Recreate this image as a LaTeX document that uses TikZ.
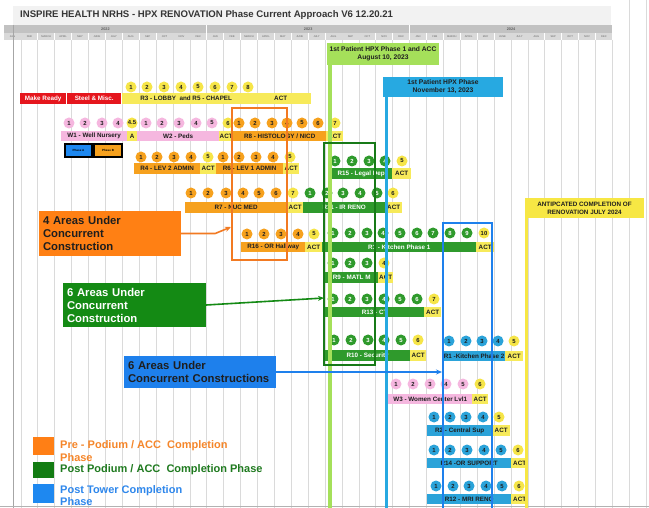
\documentclass[tikz,border=0pt]{standalone}
\usepackage{fontspec}
\setmainfont{Liberation Sans}
\usetikzlibrary{arrows.meta}
\definecolor{dk}{HTML}{1E1E1E}
\definecolor{cY}{HTML}{F6E548}
\definecolor{bY}{HTML}{F7EA5A}
\definecolor{cP}{HTML}{F5B7DF}
\definecolor{cO}{HTML}{F6A11E}
\definecolor{cG}{HTML}{2F9A2C}
\definecolor{cB}{HTML}{2BA3D9}
\definecolor{bR}{HTML}{E5161D}
\definecolor{cdgrn}{HTML}{187A18}
\definecolor{cbrt}{HTML}{1E80EC}
\definecolor{clgrn}{HTML}{A5E05A}
\definecolor{coutl}{HTML}{F27A22}
\definecolor{ccall}{HTML}{FF8014}
\definecolor{cgridc}{HTML}{DADADA}
\definecolor{chead}{HTML}{F2F2F2}
\definecolor{cyear}{HTML}{C2C2C2}
\definecolor{cmon}{HTML}{D9D9D9}
\definecolor{mblue}{HTML}{27A9E1}
\definecolor{myel}{HTML}{F7E744}
\definecolor{lgO}{HTML}{FF7F15}
\definecolor{lgG}{HTML}{137C13}
\definecolor{lgB}{HTML}{1E88F0}
\definecolor{ltO}{HTML}{F5862A}
\definecolor{ltG}{HTML}{1F7A1F}
\definecolor{ltB}{HTML}{2E87EC}
\definecolor{cgbox}{HTML}{148A14}
\newcommand\circrow[3]{\foreach \xx/\ll/\cf/\ct [count=\ii] in {#3}{\node[circ,fill=\cf,text=\ct] (#1-\ii) at (\xx,#2) {\ll};}}
\begin{document}
\begin{tikzpicture}[x=1pt,y=-1pt,
  circ/.style={circle,inner sep=0,minimum size=11pt,font=\bfseries\fontsize{5.9}{6}\selectfont},
  bar/.style={rectangle,inner sep=0,minimum height=10.5pt,anchor=west,font=\bfseries\fontsize{6.3}{7}\selectfont,text=dk},
  monlbl/.style={inner sep=0,font=\fontsize{2.6}{3}\selectfont,text=dk!70},
  yearlbl/.style={inner sep=0,font=\bfseries\fontsize{3.8}{4}\selectfont,text=dk!70},
  ms/.style={rectangle,inner sep=0,align=center,font=\bfseries\fontsize{6.7}{8}\selectfont,text=dk},
  callout/.style={rectangle,inner ysep=0,inner xsep=4pt,align=left,font=\bfseries\fontsize{11.3}{13}\selectfont},
  arr/.style={line width=1.6pt,-{Stealth[length=6pt,width=5pt]}},
  legtxt/.style={inner sep=0,anchor=west,align=left,font=\bfseries\fontsize{11}{13}\selectfont},
  phasebox/.style={draw=black,line width=1.3pt,minimum height=13pt,inner sep=0,font=\bfseries\fontsize{3}{3.5}\selectfont}]
\useasboundingbox (0,0) rectangle (649,508);
\fill[white] (0,0) rectangle (649,508);
% header
\fill[chead] (13,6) rectangle (611,25);
\node[inner sep=0,anchor=west,font=\bfseries\fontsize{9.6}{11}\selectfont,text=dk!90] (title) at (20,15) {INSPIRE HEALTH NRHS - HPX RENOVATION Phase Current Approach V6 12.20.21};
\foreach \yr [count=\yi from 0] in {2022,2023,2024} {
  \fill[cyear] ({4+\yi*202.8+0.4},25.5) rectangle ({4+(\yi+1)*202.8-0.4},32.8);
  \node[yearlbl] (yr-\yr) at ({4+\yi*202.8+101.4},29.2) {\yr};
  \foreach \mn [count=\mi from 0] in {JAN,FEB,MARCH,APRIL,MAY,JUNE,JULY,AUG,SEP,OCT,NOV,DEC} {
    \fill[cmon] ({4+(\yi*12+\mi)*16.9+0.4},33.5) rectangle ({4+(\yi*12+\mi+1)*16.9-0.4},40);
    \node[monlbl] (m-\yr-\mi) at ({4+(\yi*12+\mi+0.5)*16.9},36.8) {\mn};
  }
}
% grid
\foreach \k in {1,...,36} \draw[cgridc,line width=0.7pt] ({4+\k*16.9},40) -- ({4+\k*16.9},508);
\foreach \k in {37,38} \draw[cgridc,line width=0.7pt] ({4+\k*16.9},0) -- ({4+\k*16.9},508);
\draw[gray!70,line width=0.7pt] (13,25) -- (13,508);
\draw[gray!60,line width=0.7pt] (0,506.5) -- (649,506.5);
% bars
\node[bar,fill=bR,text=white,minimum width=46pt] (mr) at (20,98.5) {Make Ready};
\node[bar,fill=bR,text=white,minimum width=54pt] (sm) at (67,98.5) {Steel \& Misc.};
\node[bar,fill=bY,minimum width=128pt] (r3) at (122,98.5) {R3 - LOBBY\ \ and R5 - CHAPEL};
\node[bar,fill=bY,minimum width=61pt] (r3a) at (250,98.5) {ACT};
\node[bar,fill=cP,minimum width=66pt] (w1) at (61,136) {W1 - Well Nursery};
\node[bar,fill=bY,minimum width=10pt] (w1a) at (127,136) {A};
\node[bar,fill=cP,minimum width=82pt] (w2) at (137,136) {W2 - Peds};
\node[bar,fill=bY,minimum width=14pt] (w2a) at (219,136) {ACT};
\node[bar,fill=cO,minimum width=93pt] (r8) at (233,136) {R8 - HISTOLOGY / NICD};
\node[bar,fill=bY,minimum width=17pt] (r8a) at (326,136) {ACT};
\node[bar,fill=cO,minimum width=66pt] (r4) at (134,168.5) {R4 - LEV 2 ADMIN};
\node[bar,fill=bY,minimum width=16pt] (r4a) at (200,168.5) {ACT};
\node[bar,fill=cO,minimum width=67pt] (r6) at (216,168.5) {R6 - LEV 1 ADMIN};
\node[bar,fill=bY,minimum width=16pt] (r6a) at (283,168.5) {ACT};
\node[bar,fill=cG,text=white,minimum width=62pt] (r15) at (330,173.5) {R15 - Legal Dep};
\node[bar,fill=bY,minimum width=19pt] (r15a) at (392,173.5) {ACT};
\node[bar,fill=cO,minimum width=102pt] (r7) at (185,207.5) {R7 - NUC MED};
\node[bar,fill=bY,minimum width=16pt] (r7a) at (287,207.5) {ACT};
\node[bar,fill=cG,text=white,minimum width=82pt] (r11) at (303,207.5) {R11 - IR RENO};
\node[bar,fill=bY,minimum width=17pt] (r11a) at (385,207.5) {ACT};
\node[bar,fill=cO,minimum width=64pt] (r16) at (241,247) {R16 - OR Hallway};
\node[bar,fill=bY,minimum width=17pt] (r16a) at (305,247) {ACT};
\node[bar,fill=cG,text=white,minimum width=154pt] (r1) at (322,247) {R1 - Kitchen Phase 1};
\node[bar,fill=bY,minimum width=18pt] (r1a) at (476,247) {ACT};
\node[bar,fill=cG,text=white,minimum width=53pt] (r9) at (325,277.5) {R9 - MATL M};
\node[bar,fill=bY,minimum width=15pt] (r9a) at (378,277.5) {ACT};
\node[bar,fill=cG,text=white,minimum width=99pt] (r13) at (325,312) {R13 - CT};
\node[bar,fill=bY,minimum width=17pt] (r13a) at (424,312) {ACT};
\node[bar,fill=cG,text=white,minimum width=85pt] (r10) at (325,355.5) {R10 - Security};
\node[bar,fill=bY,minimum width=16pt] (r10a) at (410,355.5) {ACT};
\node[bar,fill=cB,minimum width=62pt] (rk2) at (443,356) {R1 -Kitchen Phase 2};
\node[bar,fill=bY,minimum width=18pt] (rk2a) at (505,356) {ACT};
\node[bar,fill=cP,minimum width=84pt] (w3) at (388,399) {W3 - Women Center Lvl1};
\node[bar,fill=bY,minimum width=16pt] (w3a) at (472,399) {ACT};
\node[bar,fill=cB,minimum width=65pt] (r2) at (427,430.5) {R2 - Central Sup};
\node[bar,fill=bY,minimum width=18pt] (r2a) at (492,430.5) {ACT};
\node[bar,fill=cB,minimum width=84pt] (r14) at (427,463) {R14 -OR SUPPORT};
\node[bar,fill=bY,minimum width=17pt] (r14a) at (511,463) {ACT};
\node[bar,fill=cB,minimum width=84pt] (r12) at (427,499) {R12 - MRI RENO};
\node[bar,fill=bY,minimum width=17pt] (r12a) at (511,499) {ACT};
% circles
\circrow{c3}{87}{131/1/cY/dk,147/2/cY/dk,164/3/cY/dk,181/4/cY/dk,198/5/cY/dk,215/6/cY/dk,232/7/cY/dk,248/8/cY/dk}
\circrow{cw}{123}{69/1/cP/dk,85/2/cP/dk,102/3/cP/dk,118/4/cP/dk,132/4.5/cY/dk,146/1/cP/dk,162/2/cP/dk,179/3/cP/dk,196/4/cP/dk,212/5/cP/dk,228/6/cY/dk,239/1/cO/dk,255/2/cO/dk,272/3/cO/dk,287/4/cO/dk,302/5/cO/dk,318/6/cO/dk,335/7/cY/dk}
\circrow{c46}{157}{141/1/cO/dk,157/2/cO/dk,174/3/cO/dk,191/4/cO/dk,208/5/cY/dk,223/1/cO/dk,239/2/cO/dk,256/3/cO/dk,273/4/cO/dk,290/5/cY/dk}
\circrow{c15}{161}{335/1/cG/white,352/2/cG/white,369/3/cG/white,385/4/cG/white,402/5/cY/dk}
\circrow{c7}{193}{191/1/cO/dk,208/2/cO/dk,226/3/cO/dk,243/4/cO/dk,259/5/cO/dk,276/6/cO/dk,293/7/cY/dk,310/1/cG/white,327/2/cG/white,343/3/cG/white,360/4/cG/white,377/5/cG/white,393/6/cY/dk}
\circrow{c16}{234}{247/1/cO/dk,264/2/cO/dk,281/3/cO/dk,298/4/cO/dk,314/5/cY/dk}
\circrow{c1}{233}{333/1/cG/white,350/2/cG/white,367/3/cG/white,383/4/cG/white,400/5/cG/white,417/6/cG/white,433/7/cG/white,450/8/cG/white,467/9/cG/white,484/10/cY/dk}
\circrow{c9}{263}{333/1/cG/white,350/2/cG/white,367/3/cG/white,384/4/cY/dk}
\circrow{c13}{299}{333/1/cG/white,350/2/cG/white,367/3/cG/white,384/4/cG/white,400/5/cG/white,417/6/cG/white,434/7/cY/dk}
\circrow{c10}{340}{334/1/cG/white,351/2/cG/white,368/3/cG/white,384/4/cG/white,401/5/cG/white,418/6/cY/dk}
\circrow{ck2}{341}{449/1/cB/dk,466/2/cB/dk,482/3/cB/dk,498/4/cB/dk,514/5/cY/dk}
\circrow{cw3}{384}{396/1/cP/dk,413/2/cP/dk,430/3/cP/dk,446/4/cP/dk,463/5/cP/dk,480/6/cY/dk}
\circrow{c2}{417}{434/1/cB/dk,450/2/cB/dk,466/3/cB/dk,483/4/cB/dk,499/5/cY/dk}
\circrow{c14}{450}{434/1/cB/dk,450/2/cB/dk,467/3/cB/dk,484/4/cB/dk,501/5/cB/dk,518/6/cY/dk}
\circrow{c12}{486}{436/1/cB/dk,453/2/cB/dk,469/3/cB/dk,486/4/cB/dk,502/5/cB/dk,519/6/cY/dk}
% phase boxes
\node[phasebox,fill=lgB,minimum width=27pt] (pa) at (78.5,150.5) {Phase A};
\node[phasebox,fill=cO,minimum width=28pt] (pb) at (108,150.5) {Phase B};
% milestones
\fill[clgrn] (328,65) rectangle (332,508);
\node[ms,fill=clgrn,minimum width=112pt,minimum height=22pt] (m1) at (383,54) {1st Patient HPX Phase 1 and ACC\\August 10, 2023};
\fill[mblue] (384.5,97) rectangle (387.5,508);
\node[ms,fill=mblue,minimum width=120pt,minimum height=20pt] (m2) at (443,87) {1st Patient HPX Phase\\November 13, 2023};
\fill[myel] (525,218) rectangle (528,508);
\node[ms,fill=myel,minimum width=119pt,minimum height=20pt,font=\bfseries\fontsize{6.3}{8}\selectfont] (m3) at (584.5,208) {ANTIPCATED COMPLETION OF\\RENOVATION JULY 2024};
% concurrent outlines
\draw[coutl,line width=2.2pt] (232,108) rectangle (287,260);
\draw[cdgrn,line width=2.5pt] (324,143) rectangle (375,365);
\draw[cbrt,line width=2.5pt] (443,223) rectangle (492,512);
% callouts
\node[callout,fill=ccall,text=dk,text width=134pt,minimum height=45pt] (c4) at (110,233.5) {4 Areas Under\\Concurrent\\Construction};
\coordinate (a4) at (231,227);
\draw[arr,coutl] (c4.east) -- ++(34,0) -- (a4);
\node[callout,fill=cgbox,text=white,text width=135pt,minimum height=44pt] (c6g) at (134.5,305) {6 Areas Under\\Concurrent\\Construction};
\coordinate (a6g) at (324,298);
\draw[arr,cgbox] (c6g.east) -- (a6g);
\node[callout,fill=cbrt,text=dk,text width=144pt,minimum height=32pt] (c6b) at (200,372) {6 Areas Under\\Concurrent Constructions};
\coordinate (a6b) at (442,372);
\draw[arr,cbrt] (c6b.east) -- (a6b);
% legend
\node[fill=lgO,minimum width=21pt,minimum height=18pt,inner sep=0] (lg1) at (43.5,446) {};
\node[legtxt,text=ltO] (lg1t) at (60,451) {Pre - Podium / ACC\ \ Completion\\Phase};
\node[fill=lgG,minimum width=21pt,minimum height=16pt,inner sep=0] (lg2) at (43.5,470) {};
\node[legtxt,text=ltG] (lg2t) at (60,469.5) {Post Podium / ACC\ \ Completion Phase};
\node[fill=lgB,minimum width=21pt,minimum height=19pt,inner sep=0] (lg3) at (43.5,493.5) {};
\node[legtxt,text=ltB,font=\bfseries\fontsize{11}{11.5}\selectfont] (lg3t) at (60,495.5) {Post Tower Completion\\Phase};
\end{tikzpicture}
\end{document}
